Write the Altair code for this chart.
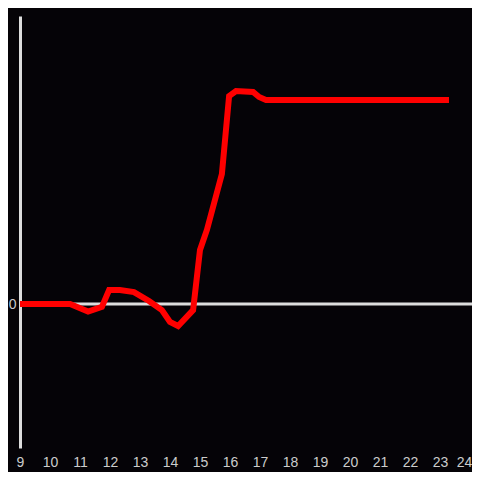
import altair as alt
import pandas as pd

xs = [9.0, 10.67, 11.27, 11.73, 11.97, 12.33, 12.8, 13.3, 13.73, 14.0, 14.27, 14.77,
      15.0, 15.23, 15.73, 15.97, 16.2, 16.77, 16.97, 17.2, 23.3]
ys = [0.0, 0.0, -0.052, -0.02, 0.097, 0.097, 0.083, 0.021, -0.042, -0.125, -0.153, -0.042,
      0.375, 0.514, 0.903, 1.444, 1.479, 1.472, 1.4375, 1.417, 1.417]
x_ticks = list(range(9, 25))

df = pd.DataFrame({"x": xs, "y": ys})

zero = alt.Chart(pd.DataFrame({"z": [0]})).mark_rule(color="#dddddd", strokeWidth=3).encode(
    y=alt.Y("z:Q", scale=alt.Scale(domain=[-1, 2]))
)

line = alt.Chart(df).mark_line(color="#ff0000", strokeWidth=6).encode(
    x=alt.X("x:Q", scale=alt.Scale(domain=[9, 24.067], nice=False, zero=False),
            axis=alt.Axis(values=x_ticks, title=None, domain=False, ticks=False, grid=False,
                          format="d", labelColor="#cccccc", labelFontSize=14, labelPadding=7,
                          labelFont="Liberation Sans", labelFlush=False,
                          labelOffset=alt.condition("datum.value == 24", alt.value(-6), alt.value(0)))),
    y=alt.Y("y:Q", scale=alt.Scale(domain=[-1, 2], nice=False, zero=False),
            axis=alt.Axis(values=[0], title=None, domain=True, domainColor="#dddddd",
                          domainWidth=3, ticks=False, grid=False, format="d",
                          labelColor="#cccccc", labelFontSize=14, labelPadding=4,
                          labelFont="Liberation Sans")),
    order="x:Q",
)

chart = alt.layer(zero, line).properties(
    width=452, height=432, background="#050307",
    autosize=alt.AutoSizeParams(type="none"),
    padding={"left": 12, "top": 8, "right": 0, "bottom": 24},
).configure_view(stroke=None)

chart.save("out.html", embed_options={"renderer": "svg", "actions": False})
